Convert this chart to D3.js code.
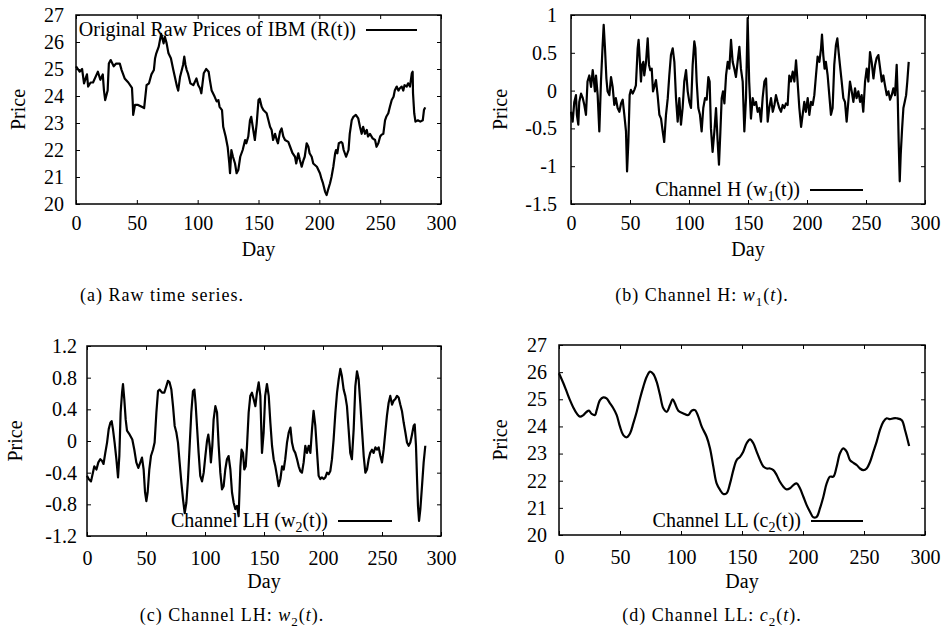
<!DOCTYPE html>
<meta charset="utf-8">
<style>
body { margin: 0; background: #fff; }
svg { display: block; }
.tick text { font-family: "Liberation Serif", "Times New Roman", serif; }
.label { font: 20px "Liberation Serif", "Times New Roman", serif; fill: #000; }
.caption { font: 18px "Liberation Serif", "Times New Roman", serif; letter-spacing: 1px; fill: #000; }
.series { fill: none; stroke: #000; stroke-width: 2.2; stroke-linejoin: round; }
</style>
<svg width="944" height="637"></svg>
<script src="https://d3js.org/d3.v7.min.js"></script>
<script>

// ---- data: [day, value] ----
var dayTicks = [0, 50, 100, 150, 200, 250, 300];
var priceTicks = [20, 21, 22, 23, 24, 25, 26, 27];
var hTicks = [-1.5, -1, -0.5, 0, 0.5, 1];
var lhTicks = [-1.2, -0.8, -0.4, 0, 0.4, 0.8, 1.2];

var rawPrices = [[0,25.1],[3,24.9],[5,25.0],[6.6,24.47],[9,24.8],[10,24.35],[12,24.5],[14,24.5],[17,24.8],[18,24.9],[20,24.6],[22,24.8],[23,24.2],[24,23.85],[26,24.2],[27,25.2],[28.5,25.33],[31,25.1],[33,25.2],[36,25.2],[37.5,24.96],[40,24.65],[43,24.5],[46,24.3],[46.6,23.8],[47,23.3],[48.5,23.67],[51,23.67],[54,23.6],[56,23.55],[58,24.4],[60,24.47],[62,24.8],[64,24.96],[65,25.4],[66,25.58],[68,25.83],[69,26.07],[70,26.3],[72,25.95],[73,26.2],[74.5,25.95],[76,25.58],[78,25.4],[80,24.96],[83,24.35],[84,24.2],[85.5,24.7],[88,25.15],[89,25.46],[90,25.15],[91,24.96],[92,24.84],[94,24.47],[96.4,24.4],[99,24.65],[100.5,24.4],[102,24.28],[103,24.1],[105,24.84],[107,25.0],[109,24.9],[110,24.6],[111.5,24.2],[114,23.97],[115.6,23.8],[117,23.85],[118,23.6],[120,23.48],[121,22.86],[123,22.5],[124.7,22.1],[126,21.5],[126.6,21.14],[127.7,22.0],[129,21.75],[130.7,21.5],[132,21.14],[133.4,21.26],[135,21.75],[137,22.0],[139,22.37],[140,22.25],[141.6,22.5],[143,23.1],[144,23.23],[145.7,22.74],[147,22.37],[148.5,22.98],[150,23.85],[151,23.9],[152.6,23.6],[154,23.48],[156.7,23.36],[159.5,22.86],[160.8,22.74],[162,22.37],[163.6,22.6],[165,22.37],[166,22.25],[167.7,22.68],[169,22.8],[170.4,22.5],[171.8,22.37],[174.5,22.3],[176,22.12],[178,21.88],[180,21.75],[181,21.5],[182.7,21.88],[184,21.63],[185.5,21.38],[187,21.63],[188,21.75],[189.6,22.25],[191,22.12],[192,21.88],[193.7,21.75],[195,21.5],[198,21.38],[200.5,21.14],[202,20.9],[203,20.77],[204.7,20.46],[206,20.33],[207,20.5],[208.8,20.77],[210,21.0],[211.5,21.38],[213,21.88],[213.7,22.0],[214.8,21.88],[216,22.25],[218,22.3],[219,22.25],[220,22.0],[222,21.75],[224,22.0],[225,22.6],[226.6,23.1],[228,23.23],[230,23.3],[232,23.17],[233.4,22.86],[234.8,22.6],[236,22.86],[237.5,22.6],[239,22.74],[240,22.5],[241.6,22.6],[243.8,22.43],[245.8,22.37],[247,22.12],[248.5,22.25],[250,22.5],[251,22.56],[252.6,22.6],[254,23.1],[255,23.23],[256.7,23.36],[258,23.6],[259.5,23.85],[261,23.97],[262,24.2],[263.6,24.35],[265,24.2],[266,24.28],[267.7,24.35],[269,24.2],[270,24.4],[271.8,24.35],[273,24.47],[274.5,24.35],[276,24.84],[276.7,24.9],[277,24.1],[278,23.36],[279,23.05],[281,23.1],[283,23.05],[285,23.1],[286,23.48],[287,23.58]];

var channelH = [[0,-0.28],[1.4,-0.41],[2.8,-0.15],[4.2,-0.06],[5,-0.32],[6.2,-0.45],[7,-0.15],[8.5,-0.04],[10,-0.1],[11.3,-0.19],[12.7,-0.32],[14,0.12],[15.5,0.2],[17,0.05],[18.4,0.27],[19.2,0.16],[20.3,-0.01],[21.2,0.2],[22.6,-0.06],[24,-0.54],[25.4,0.12],[26.8,0.6],[27.7,0.87],[28.8,0.56],[30,0.16],[31,-0.01],[32.5,-0.06],[33.9,0.18],[35.3,0.05],[36.7,-0.19],[38,-0.1],[39.5,-0.23],[41,-0.28],[42.4,-0.17],[43.8,-0.12],[45.2,-0.32],[46.6,-0.54],[47.5,-1.07],[48.6,-0.68],[49.7,-0.06],[50.8,0.01],[52.3,-0.04],[53.7,0.01],[55,0.07],[56.5,0.56],[57.3,0.67],[58.2,0.43],[59.3,0.12],[60.2,0.34],[61.3,0.38],[62.1,0.2],[63.6,0.38],[65,0.69],[66.1,0.34],[67.2,0.27],[68.4,0.29],[69.5,-0.01],[70.6,0.05],[72,0.14],[73.4,-0.06],[74.9,-0.32],[76.3,-0.37],[77.7,-0.54],[79,-0.68],[80.5,-0.32],[82,-0.1],[83.3,0.2],[84.7,0.47],[86.2,0.56],[87.6,0.38],[89,-0.1],[90.4,-0.41],[91.8,-0.1],[93.2,-0.45],[94.6,-0.23],[96,0.12],[97.5,0.27],[98.9,-0.01],[100.3,-0.15],[101.7,-0.23],[103.1,0.34],[104.5,0.65],[105.4,0.56],[106.5,0.12],[107.9,-0.23],[109.3,-0.32],[110.7,-0.54],[112.1,-0.23],[113.6,-0.1],[115,-0.12],[116.4,0.18],[117.5,0.12],[118.6,-0.5],[120,-0.81],[121.5,-0.54],[122.9,-0.23],[124.3,-0.68],[125.4,-0.98],[126.6,-0.54],[127.7,-0.1],[128.8,-0.01],[130,-0.17],[131.4,0.2],[132.8,0.38],[134.2,0.29],[135.6,0.67],[137,0.38],[138.4,0.29],[139.8,0.18],[141.2,0.38],[142.7,0.58],[144,0.29],[145.5,0.12],[146.9,-0.54],[148.3,-0.1],[149.7,0.96],[151,0.12],[152.5,-0.37],[154,-0.1],[155.4,-0.19],[156.8,-0.15],[158.2,-0.28],[159.6,-0.23],[161,-0.41],[162.4,-0.1],[163.9,0.12],[165.3,0.16],[166.7,-0.41],[168,-0.23],[169.5,-0.1],[171,-0.28],[172.4,-0.19],[173.7,-0.06],[175.1,-0.15],[176.5,-0.23],[178,-0.28],[179.4,-0.19],[180.8,-0.23],[182.2,-0.17],[183.6,-0.19],[185,0.2],[186.4,0.12],[187.9,0.25],[189.3,0.12],[190.7,0.4],[192,0.12],[193.5,-0.23],[195,-0.48],[196.3,-0.32],[197.7,-0.15],[199,-0.28],[200.6,-0.1],[202,-0.32],[203.4,-0.15],[204.8,-0.19],[206.2,-0.06],[207.6,0.2],[209,0.45],[210.5,0.38],[211.9,0.56],[212.7,0.74],[213.8,0.47],[214.9,0.29],[216,0.38],[217.5,0.2],[218.9,-0.06],[220.3,-0.32],[221.7,-0.23],[223.1,0.34],[224.5,0.6],[225.7,0.69],[226.8,0.51],[227.9,0.34],[229.4,0.12],[230.8,-0.1],[232.2,-0.15],[233.6,-0.41],[235,-0.15],[236.4,0.12],[237.9,-0.01],[239.3,-0.15],[240.7,0.03],[242,-0.1],[243.5,-0.01],[245,-0.15],[246.3,-0.06],[247.7,-0.28],[249.2,0.12],[250.6,0.29],[252,0.12],[253.4,0.51],[254.8,0.38],[256.3,0.16],[257.7,0.34],[259,0.43],[260.5,0.47],[262,0.29],[263.4,0.12],[264.7,0.2],[266.1,0.07],[267.6,-0.06],[269,-0.01],[270.4,-0.12],[271.8,-0.06],[273.2,0.03],[274.6,-0.06],[276,0.34],[276.9,-0.1],[277.7,-0.68],[278.6,-1.2],[279.4,-0.85],[280.6,-0.5],[281.7,-0.23],[282.8,-0.15],[284,-0.06],[285,0.12],[286.2,0.38]];

var channelLH = [[0,-0.44],[1.4,-0.48],[3.4,-0.51],[5,-0.4],[6.2,-0.32],[8,-0.36],[9.6,-0.27],[11.3,-0.23],[12.7,-0.25],[14,-0.29],[15.5,-0.15],[17,-0.02],[18.4,0.15],[19.8,0.23],[20.9,0.25],[22,0.15],[23.4,-0.02],[24.9,-0.23],[26.3,-0.46],[27.4,-0.19],[28.5,0.36],[29.7,0.61],[30.5,0.72],[31.6,0.53],[32.8,0.27],[33.9,0.13],[36.2,0.08],[38.4,0.02],[40.1,-0.11],[41.8,-0.27],[43.5,-0.34],[45.2,-0.27],[46.6,-0.21],[48,-0.36],[49.2,-0.65],[50.3,-0.76],[51.4,-0.65],[52.8,-0.36],[54.2,-0.19],[55.9,-0.11],[57.3,-0.02],[58.8,0.36],[60.2,0.63],[61.6,0.65],[63.6,0.61],[65.5,0.61],[67.2,0.69],[68.6,0.76],[70,0.74],[71.5,0.65],[72.9,0.44],[74.3,0.19],[75.7,0.11],[77.1,-0.02],[78.5,-0.27],[80,-0.53],[81.4,-0.74],[82.8,-0.91],[84.2,-0.78],[85.6,-0.48],[87,-0.06],[88.4,0.36],[89.8,0.63],[91,0.65],[92,0.48],[93.2,0.19],[94.6,-0.15],[96,-0.44],[97.5,-0.51],[98.9,-0.4],[100.3,-0.19],[101.7,0],[102.8,0.08],[104,-0.06],[105,-0.27],[106.2,-0.06],[107.3,0.27],[108.8,0.44],[110.2,0.36],[111.6,-0.06],[113,-0.4],[114.4,-0.61],[115.8,-0.57],[117.2,-0.36],[118.6,-0.23],[120,-0.19],[121.5,-0.36],[122.9,-0.65],[124.3,-0.78],[125.7,-0.86],[127.1,-0.82],[128.5,-0.95],[130,-0.32],[131,-0.11],[132.2,-0.15],[133.3,-0.36],[134.5,-0.32],[135.6,-0.06],[137,0.36],[138.4,0.57],[139.8,0.61],[141.2,0.53],[142.7,0.44],[144,0.61],[145.5,0.74],[146.9,0.57],[148.3,-0.15],[149.7,0.11],[151,0.57],[152.5,0.72],[154,0.57],[155.4,0.23],[156.8,-0.06],[158.2,-0.23],[159.6,-0.32],[161,-0.44],[162.4,-0.57],[163.9,-0.48],[165.3,-0.32],[166.7,-0.36],[168,-0.23],[169.5,-0.02],[171,0.11],[172.4,0.17],[173.7,-0.02],[175.1,-0.11],[176.5,-0.15],[178,-0.23],[179.4,-0.32],[180.8,-0.38],[182.2,-0.4],[183.6,-0.27],[185,-0.06],[186.4,-0.15],[187.9,-0.06],[189.3,-0.15],[190.7,0.15],[192,0.38],[193.5,0.19],[195,-0.15],[196.3,-0.44],[197.7,-0.48],[199,-0.46],[200.6,-0.48],[202,-0.46],[203.4,-0.4],[204.8,-0.42],[206.2,-0.38],[207.6,-0.23],[209,0.02],[210.5,0.36],[211.9,0.61],[213.3,0.78],[214.7,0.91],[216,0.82],[217.5,0.65],[218.9,0.57],[220.3,0.44],[221.7,0.15],[223.1,-0.15],[224.5,-0.23],[226,0.15],[227.4,0.69],[228.8,0.88],[230.2,0.78],[231.6,0.48],[233,0.15],[234.5,-0.19],[235.9,-0.4],[237.3,-0.36],[238.7,-0.23],[240,-0.15],[241.5,-0.11],[242.9,-0.15],[244.4,-0.08],[245.8,-0.11],[247.2,-0.08],[248.6,-0.19],[250,-0.27],[251.4,-0.11],[252.8,0.11],[254.2,0.32],[255.6,0.48],[257,0.57],[258.5,0.46],[259.9,0.51],[261.3,0.53],[262.7,0.57],[264.1,0.55],[265.5,0.46],[266.9,0.38],[268.4,0.23],[269.8,0.11],[271.2,-0.02],[272.6,-0.06],[274,-0.02],[275.4,0.08],[276.8,0.19],[277.7,0.21],[278.8,-0.06],[279.7,-0.48],[280.5,-0.82],[281.4,-1.01],[282.5,-0.86],[283.9,-0.57],[285.3,-0.27],[286.7,-0.06]];

var channelLL = [[0,25.96],[3.6,25.59],[6.3,25.28],[9,24.97],[11.7,24.7],[14.5,24.48],[17.2,24.36],[20,24.42],[22.7,24.54],[24.6,24.58],[26.8,24.46],[29.5,24.42],[30.9,24.6],[33.6,24.97],[36.3,25.07],[39,25.03],[41.8,24.85],[44.5,24.67],[47.3,24.42],[50,23.99],[52.7,23.68],[55.5,23.6],[58.2,23.74],[60.9,24.11],[63.7,24.54],[66.4,25.03],[69.1,25.46],[71.9,25.83],[74.6,26.02],[77.3,25.93],[80,25.65],[82.8,25.16],[85.5,24.67],[88.3,24.54],[91,24.79],[93.2,25.0],[95,24.85],[97.8,24.58],[101.9,24.48],[106,24.42],[108.7,24.58],[111.5,24.6],[114.2,24.36],[117,23.99],[121,23.62],[123.8,23.19],[126.5,22.52],[129.2,21.9],[132,21.66],[134.7,21.51],[137.4,21.54],[140.2,21.9],[142.9,22.39],[145.6,22.76],[148.4,22.88],[151,23.07],[153.8,23.38],[156.6,23.52],[159.3,23.38],[162,23.07],[164.8,22.76],[167.5,22.52],[170.2,22.45],[173,22.45],[175.7,22.39],[178.4,22.21],[181.1,21.96],[183.9,21.78],[186.6,21.68],[189.3,21.72],[192.1,21.84],[194.8,21.9],[197.5,21.72],[200.3,21.41],[203,21.1],[205.7,20.86],[208.5,20.65],[211.2,20.67],[213.9,20.98],[216.7,21.41],[219.4,21.9],[222.1,22.15],[224.9,22.15],[227.6,22.52],[230.3,23.01],[233,23.19],[235.8,23.07],[238.5,22.76],[241.3,22.66],[244,22.58],[246.7,22.45],[249.5,22.39],[252.2,22.45],[255,22.7],[257.7,23.07],[260.4,23.44],[263.1,23.87],[265.8,24.17],[268.6,24.3],[271.3,24.27],[274,24.3],[276.8,24.3],[281,24.23],[283.6,23.87],[287,23.28]];

// ---- layout of the four panels ----
var panels = [
  { data: rawPrices, yDomain: [20, 27], yTicks: priceTicks, curve: d3.curveLinear,
    box: [76, 15, 441, 204], padX: 12, padY: 12, priceX: 18, dayY: 256,
    legend: [["Original Raw Prices of IBM (R(t))"]], legendY: 30, legendLine: [366, 417],
    caption: [["(a) Raw time series."]], capX: 162, capY: 301 },
  { data: channelH, yDomain: [-1.5, 1], yTicks: hTicks, curve: d3.curveLinear,
    box: [571, 15, 925, 204], padX: 12, padY: 14, priceX: 500, dayY: 256,
    legend: [["Channel H (w"], ["1", "sub"], ["(t))"]], legendY: 190, legendLine: [810, 863],
    caption: [["(b) Channel H: "], ["w", "it"], ["1", "sub"], ["("], ["t", "it"], [")."]], capX: 702, capY: 301 },
  { data: channelLH, yDomain: [-1.2, 1.2], yTicks: lhTicks, curve: d3.curveLinear,
    box: [87, 346, 441, 536], padX: 15, padY: 10, priceX: 15, dayY: 588,
    legend: [["Channel LH (w"], ["2", "sub"], ["(t))"]], legendY: 521, legendLine: [338, 392],
    caption: [["(c) Channel LH: "], ["w", "it"], ["2", "sub"], ["("], ["t", "it"], [")."]], capX: 232, capY: 621 },
  { data: channelLL, yDomain: [20, 27], yTicks: priceTicks, curve: d3.curveCatmullRom,
    box: [559, 345, 925, 535], padX: 15, padY: 12, priceX: 500, dayY: 588,
    legend: [["Channel LL (c"], ["2", "sub"], ["(t))"]], legendY: 521, legendLine: [811, 863],
    caption: [["(d) Channel LL: "], ["c", "it"], ["2", "sub"], ["("], ["t", "it"], [")."]], capX: 712, capY: 621 }
];

var svg = d3.select("svg");

function addParts(text, parts, subSize) {
  parts.forEach(function(p, i) {
    var ts = text.append("tspan").text(p[0]);
    if (p[1] === "it") ts.style("font-style", "italic");
    if (p[1] === "sub") ts.attr("font-size", subSize).attr("dy", 5);
    // undo the subscript shift on the part after it
    if (i > 0 && parts[i - 1][1] === "sub") ts.attr("dy", -5);
  });
}

panels.forEach(function(p) {
  var x0 = p.box[0], y0 = p.box[1], x1 = p.box[2], y1 = p.box[3];
  var x = d3.scaleLinear().domain([0, 300]).range([x0, x1]);
  var y = d3.scaleLinear().domain(p.yDomain).range([y1, y0]);
  var g = svg.append("g");
  var fmt = function(d) { return String(d); };

  function styleAxis(sel) {
    sel.select(".domain").remove();
    sel.attr("font-size", 20).attr("font-family", "'Liberation Serif', serif");
    sel.selectAll("line").attr("stroke", "#000").attr("stroke-width", 1);
    sel.selectAll("text").attr("fill", "#000");
  }

  g.append("g").attr("transform", "translate(0," + y1 + ")")
    .call(d3.axisBottom(x).tickValues(dayTicks).tickSize(-4).tickPadding(p.padX).tickFormat(fmt))
    .call(styleAxis);
  g.append("g").attr("transform", "translate(0," + y0 + ")")
    .call(d3.axisTop(x).tickValues(dayTicks).tickSize(-4).tickFormat(""))
    .call(styleAxis);
  g.append("g").attr("transform", "translate(" + x0 + ",0)")
    .call(d3.axisLeft(y).tickValues(p.yTicks).tickSize(-4).tickPadding(p.padY).tickFormat(fmt))
    .call(styleAxis);
  g.append("g").attr("transform", "translate(" + x1 + ",0)")
    .call(d3.axisRight(y).tickValues(p.yTicks).tickSize(-4).tickFormat(""))
    .call(styleAxis);

  g.append("rect")
    .attr("x", x0).attr("y", y0)
    .attr("width", x1 - x0).attr("height", y1 - y0)
    .attr("fill", "none").attr("stroke", "#000").attr("stroke-width", 1.5);

  var line = d3.line()
    .x(function(d) { return x(d[0]); })
    .y(function(d) { return y(d[1]); })
    .curve(p.curve);

  g.append("path").datum(p.data).attr("class", "series").attr("d", line);

  // legend
  var lt = g.append("text").attr("class", "label")
    .attr("x", p.legendLine[0] - 10).attr("y", p.legendY + 6)
    .attr("text-anchor", "end");
  addParts(lt, p.legend, 14);
  g.append("line")
    .attr("x1", p.legendLine[0]).attr("x2", p.legendLine[1])
    .attr("y1", p.legendY).attr("y2", p.legendY)
    .attr("stroke", "#000").attr("stroke-width", 2);

  // axis titles
  g.append("text").attr("class", "label")
    .attr("transform", "translate(" + (p.priceX + 7) + "," + ((y0 + y1) / 2) + ") rotate(-90)")
    .attr("text-anchor", "middle")
    .text("Price");
  g.append("text").attr("class", "label")
    .attr("x", (x0 + x1) / 2).attr("y", p.dayY)
    .attr("text-anchor", "middle")
    .text("Day");

  // caption
  var ct = svg.append("text").attr("class", "caption")
    .attr("x", p.capX).attr("y", p.capY)
    .attr("text-anchor", "middle");
  addParts(ct, p.caption, 13);
});

</script>
